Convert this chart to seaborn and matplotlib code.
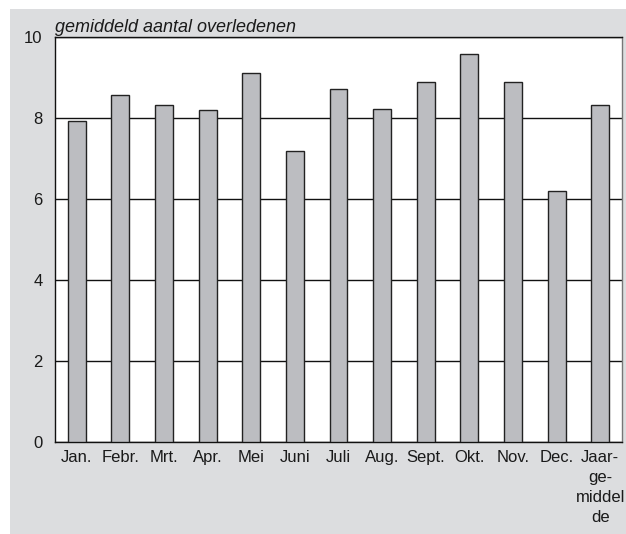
import pandas as pd
import matplotlib.pyplot as plt
import seaborn as sns
from matplotlib.patches import Rectangle

# Gemiddeld aantal overledenen per maand
maanden = ["Jan.", "Febr.", "Mrt.", "Apr.", "Mei", "Juni", "Juli", "Aug.",
           "Sept.", "Okt.", "Nov.", "Dec.", "Jaar-\nge-\nmiddel\nde"]
overledenen = [7.93, 8.57, 8.32, 8.2, 9.1, 7.19, 8.71, 8.22, 8.9, 9.58, 8.9, 6.2, 8.32]
y_ticks = [0, 2, 4, 6, 8, 10]

df = pd.DataFrame({"maand": maanden, "aantal": overledenen})

sns.set_style("white")
plt.rcParams["font.family"] = ["Liberation Sans", "DejaVu Sans"]

fig = plt.figure(figsize=(6.26, 5.34), dpi=100, facecolor="white")
# grijze achtergrond
fig.patches.append(Rectangle((10 / 626, 0), 1 - 10 / 626, 1 - 9 / 534,
                             transform=fig.transFigure, facecolor="#dcdddf",
                             edgecolor="none", zorder=-5))
ax = fig.add_axes([55 / 626, 1 - 442 / 534, (622 - 55) / 626, (442 - 37) / 534])
ax.set_zorder(1)
ax.set_facecolor("white")

sns.barplot(x="maand", y="aantal", data=df, color="#bcbdc1", width=0.41,
            edgecolor="#222222", linewidth=1.0, saturation=1, ax=ax, zorder=3)

ax.set_ylim(0, 10)
ax.set_xlim(-0.5, len(maanden) - 0.5)
ax.set_yticks(y_ticks)
ax.yaxis.grid(True, color="#111111", linewidth=1.0)
ax.set_axisbelow(True)
ax.tick_params(axis="both", length=0, labelsize=12, colors="#1a1a1a")
ax.tick_params(axis="y", pad=9)
ax.tick_params(axis="x", pad=6)
for lbl in ax.get_xticklabels():
    lbl.set_linespacing(1.4)
ax.set_xlabel("")
ax.set_ylabel("")

for side in ["top", "left", "bottom"]:
    ax.spines[side].set_visible(True)
    ax.spines[side].set_color("#111111")
    ax.spines[side].set_linewidth(1.0)
ax.spines["right"].set_color("#777777")
ax.spines["right"].set_linewidth(1.0)

fig.text(55 / 626, 1 - 27 / 534, "gemiddeld aantal overledenen", fontsize=13,
         style="italic", color="#1a1a1a", va="center", ha="left")

plt.savefig("out.png", dpi=100, facecolor=fig.get_facecolor())
